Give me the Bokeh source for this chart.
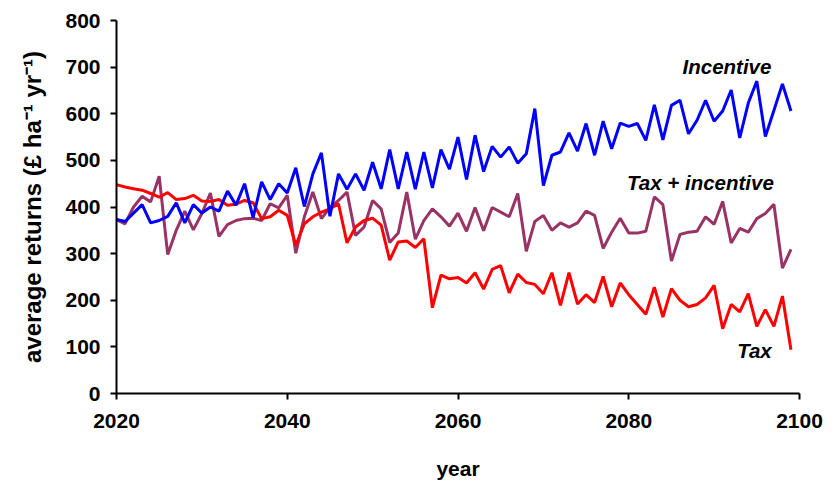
from bokeh.plotting import figure
from bokeh.models import Range1d, FixedTicker, Label
from bokeh.embed import file_html
from bokeh.resources import INLINE

years = list(range(2020, 2100))

tax = [448, 443, 439, 436, 429, 421, 431, 416, 418, 425,
       413, 412, 416, 404, 406, 414, 409, 375, 379, 393,
       382, 318, 364, 379, 389, 396, 407, 323, 357, 371,
       376, 361, 286, 325, 327, 313, 332, 184, 254, 246,
       249, 237, 259, 224, 266, 274, 216, 256, 238, 234,
       214, 259, 189, 259, 192, 212, 195, 251, 186, 237,
       212, 191, 170, 228, 164, 225, 200, 186, 191, 205,
       232, 139, 191, 175, 214, 144, 180, 144, 209, 94]

incentive = [373, 369, 387, 405, 366, 371, 380, 409, 366, 405,
             387, 400, 391, 434, 404, 450, 377, 454, 416, 450,
             430, 484, 401, 471, 516, 380, 471, 438, 471, 436,
             496, 439, 523, 439, 518, 438, 518, 441, 523, 481,
             550, 459, 554, 476, 530, 507, 529, 494, 514, 611,
             446, 511, 518, 559, 520, 579, 511, 584, 525, 580,
             573, 579, 543, 619, 544, 618, 629, 557, 586, 629,
             584, 606, 651, 548, 623, 670, 551, 607, 664, 606]

tax_incentive = [373, 364, 400, 423, 411, 466, 298, 350, 391, 351,
                 386, 430, 337, 362, 371, 375, 376, 371, 407, 398,
                 425, 301, 379, 432, 375, 399, 414, 432, 339, 357,
                 414, 396, 324, 344, 432, 331, 371, 396, 379, 359,
                 387, 348, 399, 349, 399, 389, 379, 429, 305, 369,
                 382, 350, 366, 357, 366, 391, 382, 311, 346, 376,
                 344, 344, 348, 422, 405, 284, 341, 346, 348, 379,
                 363, 412, 323, 354, 346, 375, 386, 406, 269, 309]

x_ticks = [2020, 2040, 2060, 2080, 2100]
y_ticks = [0, 100, 200, 300, 400, 500, 600, 700, 800]

FONT = "Liberation Sans"

p = figure(width=830, height=482, output_backend="svg", toolbar_location=None,
           x_range=Range1d(2020, 2100), y_range=Range1d(0, 800),
           min_border_left=116, min_border_top=20, min_border_right=31,
           min_border_bottom=89)
p.outline_line_color = None
p.xgrid.grid_line_color = None
p.ygrid.grid_line_color = None
p.background_fill_color = "white"
p.border_fill_color = "white"

p.line(years, tax_incentive, line_color="#993366", line_width=3)
p.line(years, tax, line_color="#FF0000", line_width=3)
p.line(years, incentive, line_color="#0000FF", line_width=3)

for ax in (p.xaxis[0], p.yaxis[0]):
    ax.axis_line_color = "black"
    ax.axis_line_width = 2
    ax.major_tick_line_color = "black"
    ax.major_tick_line_width = 2
    ax.major_tick_out = 6
    ax.major_tick_in = 0
    ax.minor_tick_line_color = None
    ax.major_label_text_font = FONT
    ax.major_label_text_font_style = "bold"
    ax.major_label_text_font_size = "21px"
    ax.major_label_text_color = "black"
    ax.axis_label_text_font = FONT
    ax.axis_label_text_font_style = "bold"
    ax.axis_label_text_color = "black"

p.xaxis.axis_label_text_font_size = "21px"
p.yaxis.axis_label_text_font_size = "24px"
p.xaxis.ticker = FixedTicker(ticks=x_ticks)
p.yaxis.ticker = FixedTicker(ticks=y_ticks)
p.xaxis.axis_label = "year"
p.yaxis.axis_label = "average returns (£ ha⁻¹ yr⁻¹)"
p.xaxis.major_label_standoff = 14
p.xaxis.axis_label_standoff = 26
p.yaxis.major_label_standoff = 10
p.yaxis.axis_label_standoff = 16

labels = [("Incentive", 2086.3, 702), ("Tax + incentive", 2079.8, 453), ("Tax", 2092.7, 93)]
for txt, lx, ly in labels:
    p.add_layout(Label(x=lx, y=ly, text=txt, text_font=FONT, text_font_style="bold italic",
                       text_font_size="20.5px", text_color="black", text_baseline="alphabetic",
                       text_align="left"))

open("out.html", "w").write(file_html(p, INLINE))
